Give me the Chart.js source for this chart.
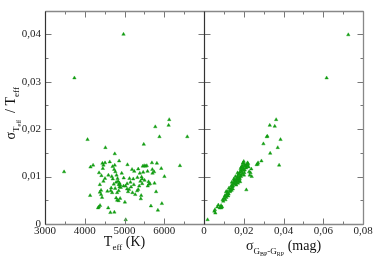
<!DOCTYPE html>
<html><head><meta charset="utf-8">
<style>html,body{margin:0;padding:0;background:#fff;}#wrap{position:relative;width:374px;height:260px;}canvas{display:block;}</style>
<script src="https://cdn.jsdelivr.net/npm/chart.js@4.4.1/dist/chart.umd.min.js"></script>
</head><body><div id="wrap"><canvas id="c" width="374" height="260"></canvas></div>
<script>
// Left panel: effective temperature (K)
const teff = [3480,3740,4975,4070,4520,4755,4145,4210,4135,4445,4470,4510,4630,4700,4865,4755,4455,4360,4420,4470,
  4380,4410,4380,4410,4435,4355,4335,4385,4590,4645,4745,5030,4740,4770,4800,4705,4730,4765,4655,4570,
  4690,4815,4855,4875,4890,4905,4840,4790,4825,4790,4815,4850,4890,4980,5025,5065,5075,5065,5090,5115,
  5150,5165,5125,5190,5220,5245,5235,5200,5270,5320,5370,5325,5345,5385,5400,5420,5410,5445,5430,5460,
  5495,5530,5560,5470,5505,5445,5485,5580,5605,5615,5585,5640,5665,5690,5700,5745,5775,5795,5815,5880,
  5925,5940,5840,6005,6110,6125,6395,6580,5755,5705,5345,4975,4930,5010,4875,4680,4595,4510,4665,4855];
// Left panel: relative Teff error
const relErrLeft = [0.0110,0.0308,0.0400,0.0178,0.0161,0.0148,0.0120,0.0124,0.0060,0.0128,0.0124,0.0129,0.0131,0.0121,0.0133,0.0124,0.0117,0.0108,0.0102,0.0090,
  0.0083,0.0071,0.0067,0.0062,0.0056,0.0036,0.0034,0.0039,0.0034,0.0024,0.0025,0.0009,0.0115,0.0110,0.0103,0.0095,0.0084,0.0075,0.0070,0.0069,
  0.0066,0.0066,0.0083,0.0086,0.0082,0.0077,0.0090,0.0088,0.0096,0.0055,0.0050,0.0049,0.0054,0.0097,0.0080,0.0085,0.0125,0.0074,0.0068,0.0073,
  0.0088,0.0078,0.0096,0.0115,0.0095,0.0111,0.0083,0.0066,0.0062,0.0070,0.0080,0.0098,0.0116,0.0107,0.0090,0.0060,0.0053,0.0095,0.0099,0.0122,
  0.0123,0.0122,0.0123,0.0109,0.0092,0.0085,0.0168,0.0111,0.0089,0.0084,0.0080,0.0085,0.0038,0.0129,0.0115,0.0110,0.0205,0.0068,0.0128,0.0184,
  0.0117,0.0043,0.0029,0.0100,0.0208,0.0220,0.0123,0.0184,0.0086,0.0107,0.0073,0.0080,0.0107,0.0046,0.0078,0.0100,0.0103,0.0096,0.0076,0.0070];
// Right panel: colour error sigma(G_BP-G_RP) (mag)
const colorErr = [0.0018,0.0052,0.0057,0.0055,0.0067,0.0072,0.0079,0.0083,0.0091,0.0086,0.0097,0.0101,0.0108,0.0104,0.0113,0.0118,0.0111,0.0115,0.0124,0.0120,
  0.0126,0.0131,0.0129,0.0136,0.0133,0.0141,0.0143,0.0145,0.0148,0.0146,0.0151,0.0155,0.0153,0.0158,0.0156,0.0161,0.0164,0.0166,0.0162,0.0168,
  0.0170,0.0173,0.0171,0.0176,0.0174,0.0178,0.0181,0.0183,0.0180,0.0185,0.0187,0.0182,0.0188,0.0192,0.0190,0.0194,0.0197,0.0195,0.0199,0.0202,
  0.0200,0.0205,0.0203,0.0208,0.0210,0.0212,0.0215,0.0217,0.0213,0.0222,0.0220,0.0227,0.0230,0.0234,0.0238,0.0240,0.0265,0.0272,0.0270,0.0289,
  0.0299,0.0316,0.0319,0.0333,0.0331,0.0356,0.0363,0.0371,0.0385,0.0378,0.0617,0.0726,0.0138,0.0150,0.0169,0.0196,0.0207,0.0186,0.0177,0.0163,
  0.0122,0.0094,0.0087,0.0140,0.0219,0.0224,0.0191,0.0159,0.0116,0.0106,0.0139,0.0201,0.0175,0.0184,0.0198];
// Right panel: relative Teff error
const relErrRight = [0.0009,0.0027,0.0023,0.0030,0.0036,0.0040,0.0034,0.0035,0.0036,0.0039,0.0048,0.0054,0.0051,0.0058,0.0056,0.0060,0.0068,0.0063,0.0063,0.0066,
  0.0076,0.0068,0.0072,0.0075,0.0070,0.0083,0.0078,0.0074,0.0086,0.0080,0.0092,0.0085,0.0089,0.0100,0.0094,0.0090,0.0087,0.0095,0.0082,0.0098,
  0.0102,0.0091,0.0086,0.0098,0.0105,0.0094,0.0109,0.0101,0.0096,0.0113,0.0104,0.0089,0.0120,0.0123,0.0110,0.0106,0.0117,0.0128,0.0113,0.0125,
  0.0132,0.0114,0.0108,0.0121,0.0122,0.0118,0.0123,0.0126,0.0072,0.0127,0.0124,0.0110,0.0103,0.0108,0.0116,0.0100,0.0125,0.0129,0.0126,0.0133,
  0.0169,0.0184,0.0185,0.0149,0.0208,0.0206,0.0220,0.0161,0.0178,0.0124,0.0308,0.0399,0.0080,0.0095,0.0108,0.0119,0.0124,0.0100,0.0106,0.0093,
  0.0059,0.0051,0.0034,0.0088,0.0129,0.0120,0.0115,0.0084,0.0069,0.0060,0.0071,0.0103,0.0090,0.0117,0.0129];
const yTicks = [0, 0.01, 0.02, 0.03, 0.04];
const teffTicks = [3000, 4000, 5000, 6000, 7000];
const colorTicks = [0, 0.02, 0.04, 0.06, 0.08];

const fmt = v => (Math.abs(v) < 1e-9 ? '0' : v.toFixed(2).replace('.', ','));
const SERIF = "'Liberation Serif', 'DejaVu Serif', serif";
const GREEN = '#119c11';

const left = teff.map((t, i) => ({x: t, y: relErrLeft[i]}));
const right = colorErr.map((c, i) => ({x: c, y: relErrRight[i]}));

function drawRich(ctx, parts, cx, baseY) {
  let w = 0;
  parts.forEach(p => { ctx.font = p.size + 'px ' + SERIF; p.w = ctx.measureText(p.t).width; w += p.w; });
  let x = cx - w / 2;
  parts.forEach(p => {
    ctx.font = p.size + 'px ' + SERIF;
    ctx.fillText(p.t, x, baseY + (p.dy || 0));
    x += p.w;
  });
}

const framePlugin = {
  id: 'frame',
  afterDraw(chart) {
    const ctx = chart.ctx;
    const xa = chart.scales.x, xb = chart.scales.x2, y = chart.scales.y;
    const top = Math.round(y.top) + 0.5, bot = Math.round(y.bottom) + 0.5;
    const L = Math.round(xa.left) + 0.5, M = Math.round(xa.right) + 0.5, R = Math.round(xb.right) + 0.5;
    ctx.save();
    const line = (x1, y1, x2, y2) => { ctx.beginPath(); ctx.moveTo(x1, y1); ctx.lineTo(x2, y2); ctx.stroke(); };
    // ticks
    ctx.strokeStyle = '#777'; ctx.lineWidth = 1;
    const MAJ = 6, MIN = 3;
    for (let i = 0; i < yTicks.length; i++) {
      const vals = [yTicks[i], yTicks[i] + (yTicks[1] - yTicks[0]) / 2];
      vals.forEach((v, k) => {
        if (v > y.max + 1e-9) return;
        const py = Math.round(y.getPixelForValue(v)) + 0.5;
        const len = k === 0 ? MAJ : MIN;
        line(L, py, L + len, py);
        line(M, py, M - len, py);
        line(M, py, M + len, py);
        line(R, py, R - len, py);
      });
    }
    [[xa, teffTicks], [xb, colorTicks]].forEach(([sc, arr]) => {
      const step = arr[1] - arr[0];
      arr.forEach(v => {
        [[v, MAJ], [v + step / 2, MIN]].forEach(([val, len]) => {
          if (val > sc.max + 1e-9) return;
          const px = Math.round(sc.getPixelForValue(val)) + 0.5;
          line(px, bot, px, bot - len);
          line(px, top, px, top + len);
        });
      });
    });
    // frame
    ctx.strokeStyle = '#888'; ctx.lineWidth = 1.3;
    line(L, top, R, top);
    line(R, top, R, bot);
    line(L, bot, R, bot);
    ctx.strokeStyle = '#333'; ctx.lineWidth = 1.2;
    line(L, top, L, bot);
    line(M, top, M, bot);
    // titles
    ctx.fillStyle = '#111';
    ctx.textAlign = 'left'; ctx.textBaseline = 'alphabetic';
    drawRich(ctx, [{t: 'T', size: 14}, {t: 'eff', size: 9, dy: 4}, {t: ' (K)', size: 14}], (xa.left + xa.right) / 2, 246);
    drawRich(ctx, [{t: 'σ', size: 14}, {t: 'G', size: 9, dy: 4}, {t: 'BP', size: 6, dy: 6}, {t: '-G', size: 9, dy: 4}, {t: 'RP', size: 6, dy: 6}, {t: ' (mag)', size: 14}], (xb.left + xb.right) / 2, 250);
    ctx.save();
    ctx.translate(15, (y.top + y.bottom) / 2 - 4);
    ctx.rotate(-Math.PI / 2);
    drawRich(ctx, [{t: 'σ', size: 14}, {t: 'T', size: 9, dy: 3.5}, {t: 'eff', size: 6, dy: 5.5}, {t: '  / T', size: 14}, {t: 'eff', size: 9, dy: 4}], 0, 0);
    ctx.restore();
    ctx.restore();
  }
};

const tickFont = {family: SERIF, size: 11};
new Chart(document.getElementById('c'), {
  type: 'scatter',
  data: {datasets: [
    {data: left, xAxisID: 'x', yAxisID: 'y', pointStyle: 'triangle', pointRadius: 2, backgroundColor: GREEN, borderColor: GREEN, borderWidth: 0.4},
    {data: right, xAxisID: 'x2', yAxisID: 'y', pointStyle: 'triangle', pointRadius: 2, backgroundColor: GREEN, borderColor: GREEN, borderWidth: 0.4}
  ]},
  options: {
    responsive: false, animation: false, events: [],
    layout: {padding: {left: 0, right: 11, top: 1, bottom: 0}},
    plugins: {legend: {display: false}, tooltip: {enabled: false}},
    scales: {
      x: {type: 'linear', position: 'bottom', stack: 'p', stackWeight: 1, min: teffTicks[0], max: teffTicks[teffTicks.length - 1],
        afterFit: s => { s.height = 36; },
        afterBuildTicks: s => { s.ticks = teffTicks.map(v => ({value: v})); },
        grid: {display: false, drawTicks: false}, border: {display: false},
        ticks: {autoSkip: false, maxRotation: 0, padding: 1, font: tickFont, color: '#222',
          callback: v => (v === teffTicks[teffTicks.length - 1] ? '' : String(v))}},
      x2: {type: 'linear', position: 'bottom', stack: 'p', stackWeight: 1, min: colorTicks[0], max: colorTicks[colorTicks.length - 1],
        afterFit: s => { s.height = 36; },
        afterBuildTicks: s => { s.ticks = colorTicks.map(v => ({value: v})); },
        grid: {display: false, drawTicks: false}, border: {display: false},
        ticks: {autoSkip: false, maxRotation: 0, padding: 1, font: tickFont, color: '#222', callback: v => fmt(v)}},
      y: {type: 'linear', position: 'left', min: 0, max: 0.045,
        afterFit: s => { s.width = 45; },
        afterBuildTicks: s => { s.ticks = yTicks.map(v => ({value: v})); },
        grid: {display: false, drawTicks: false}, border: {display: false},
        ticks: {autoSkip: false, padding: 4, font: tickFont, color: '#222', callback: v => fmt(v)}}
    }
  },
  plugins: [framePlugin]
});
</script></body></html>
